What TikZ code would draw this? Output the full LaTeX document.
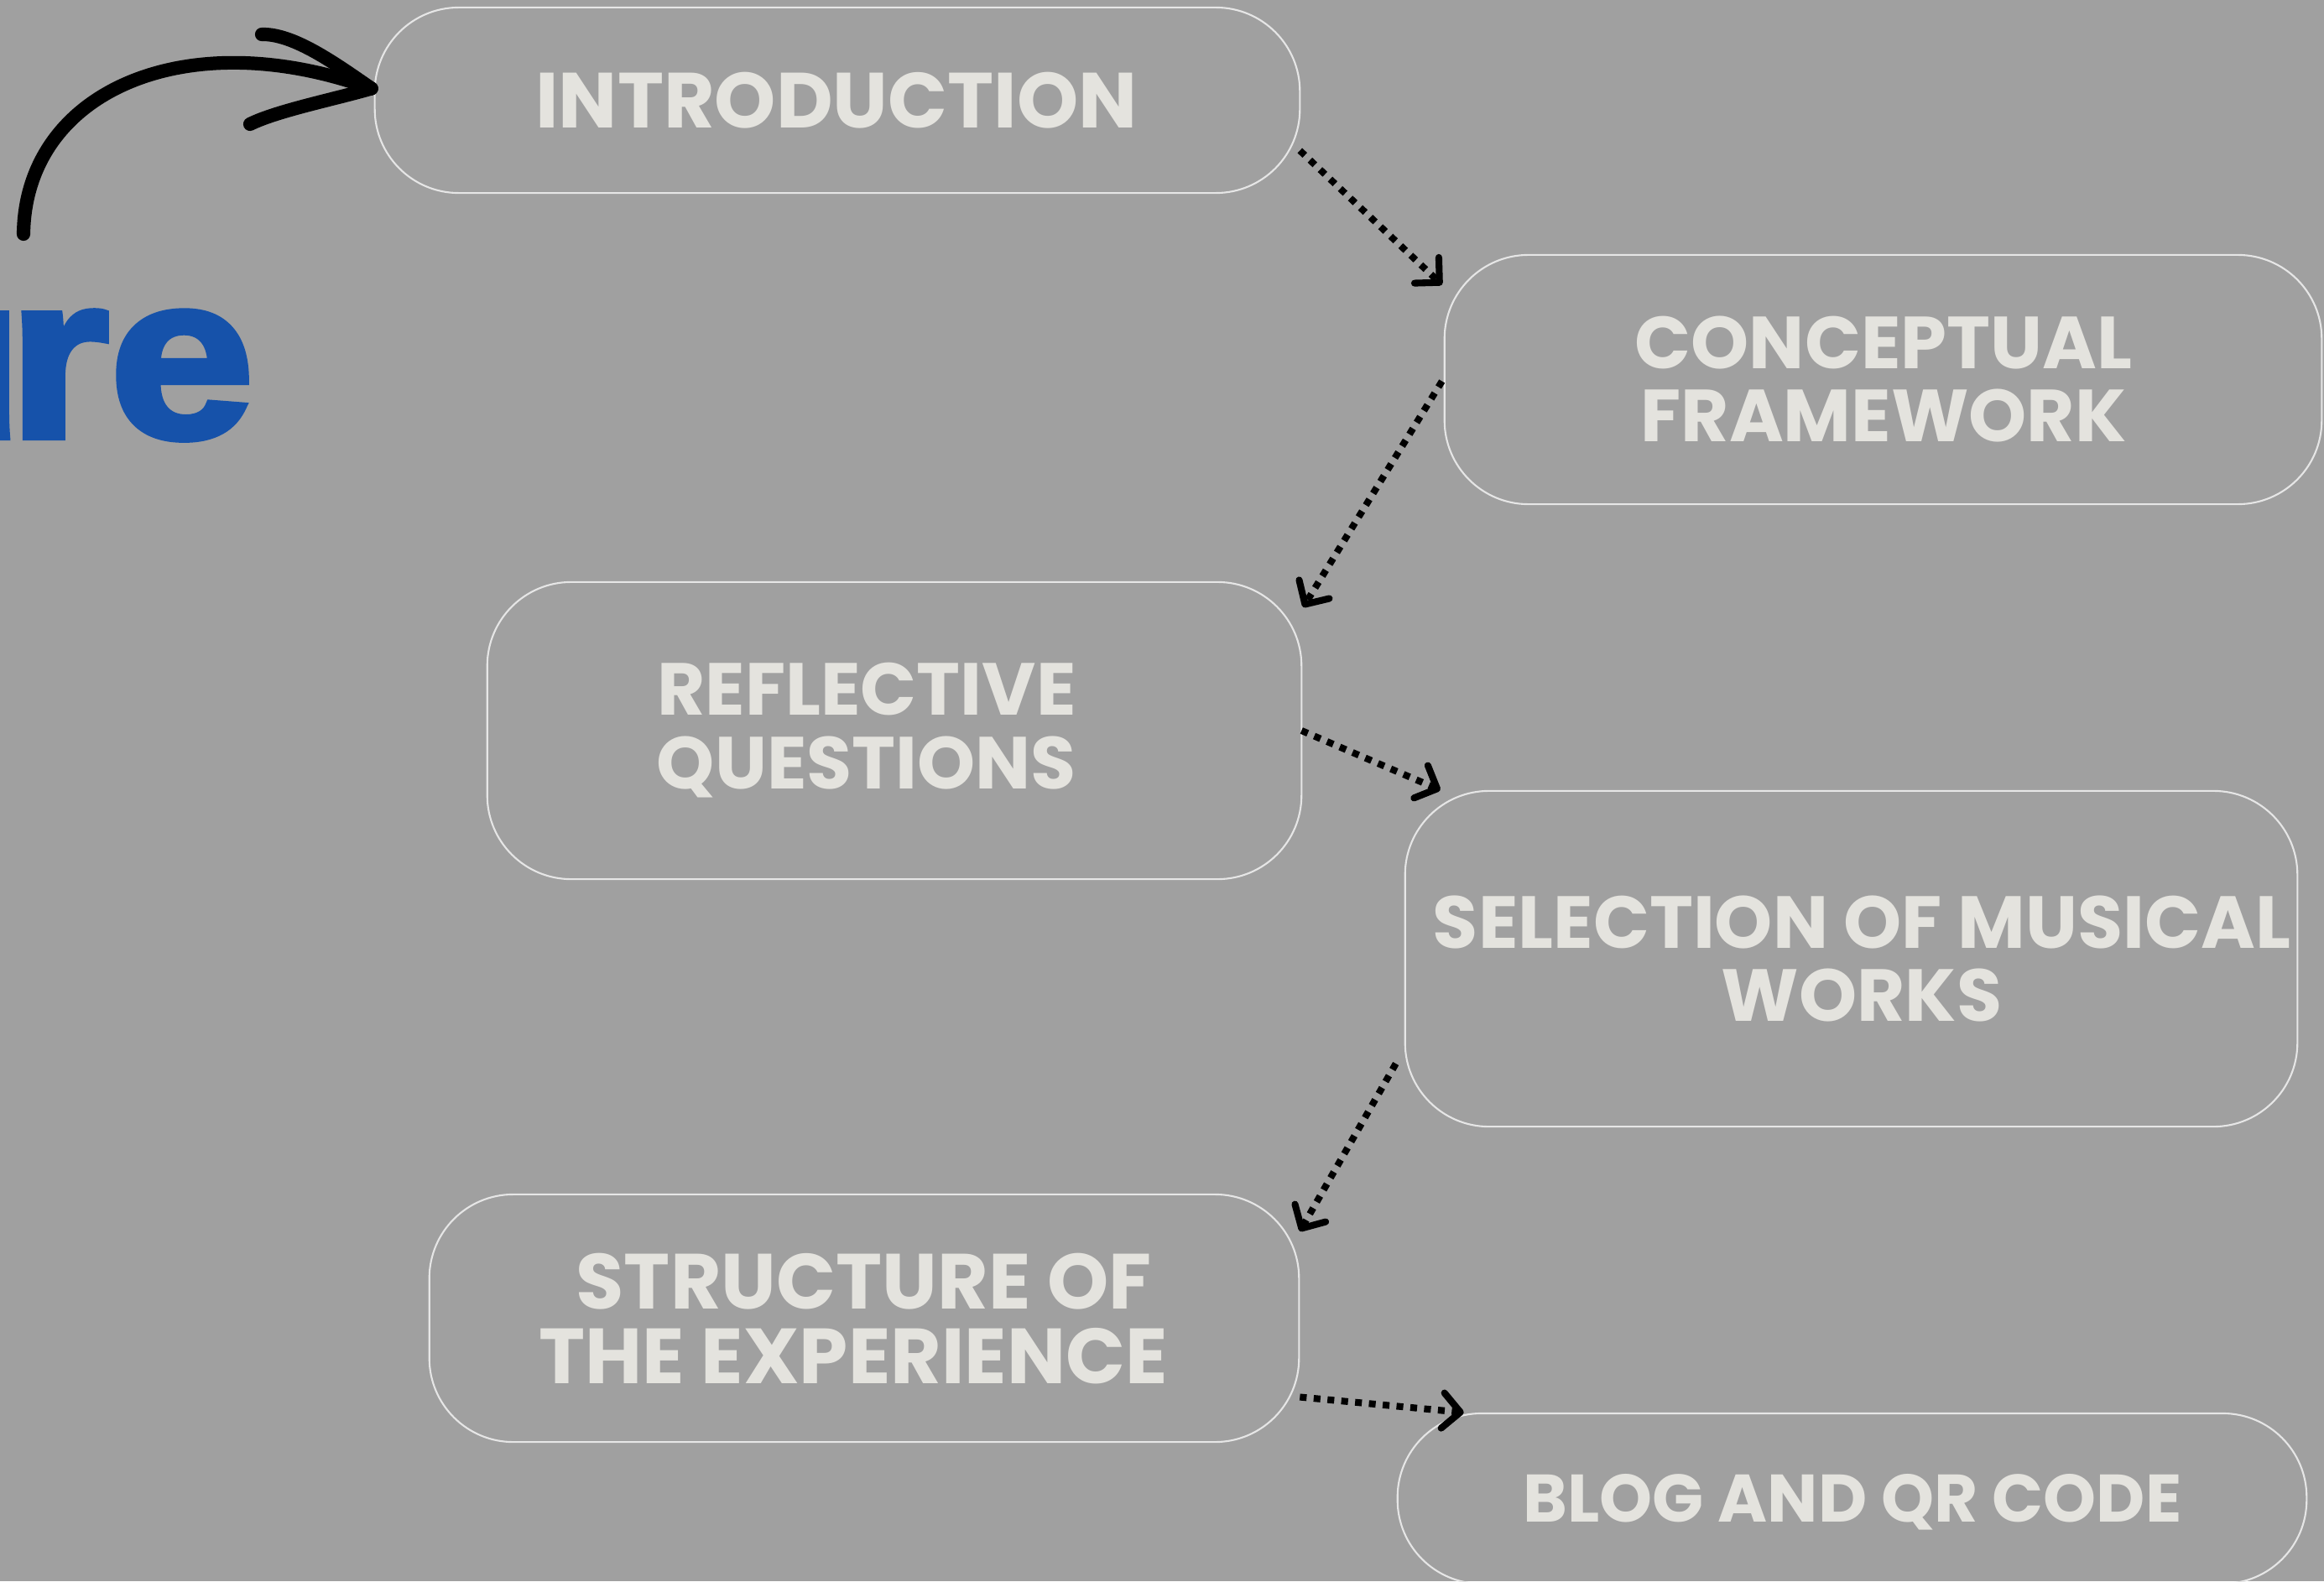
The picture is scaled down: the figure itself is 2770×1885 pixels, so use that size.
\documentclass[tikz,border=0pt]{standalone}
\usepackage{fontspec}
\usetikzlibrary{arrows.meta,calc}
\setmainfont{Poppins}
\newfontfamily\heavyfont[FakeBold=3,FakeStretch=1.12]{Liberation Sans Bold}
\definecolor{bg}{HTML}{A0A0A0}
\definecolor{boxline}{HTML}{E6E6E6}
\definecolor{txt}{HTML}{E4E3DE}
\definecolor{blueword}{HTML}{1652AA}
\begin{document}
\begin{tikzpicture}[x=0.01cm,y=-0.01cm,
  stagebox/.style={draw=boxline, line width=0.6pt, rounded corners=1cm, inner sep=0pt, outer sep=0pt},
  stagetext/.style={text=txt, font=\fontsize{25}{25}\selectfont\bfseries, align=center, inner sep=0pt},
  flow/.style={line width=2.3pt, dash pattern=on 2.3pt off 2.4pt, -{Straight Barb[length=6pt,width=12pt,line width=2.3pt,round]}},
  brush/.style={line width=4.6pt, line cap=round, black}]
\fill[bg] (0,0) rectangle (2770,1885);
\useasboundingbox (0,0) rectangle (2770,1885);
\clip (0,0) rectangle (2770,1885);

% blue partial word
\node[anchor=base east, inner sep=0pt, text=blueword, font=\heavyfont\fontsize{79}{79}\selectfont] (word) at (304,521) {u\kern-5.5pt re};

% boxes
\node[stagebox, minimum width=11.02cm, minimum height=2.21cm] (b1) at (998,119.5) {};
\node[stagebox, minimum width=10.45cm, minimum height=2.97cm] (b2) at (2244.5,452.5) {};
\node[stagebox, minimum width=9.70cm, minimum height=3.54cm] (b3) at (1066,871) {};
\node[stagebox, minimum width=10.63cm, minimum height=4.00cm] (b4) at (2206.5,1143) {};
\node[stagebox, minimum width=10.36cm, minimum height=2.95cm] (b5) at (1030,1571.5) {};
\node[stagebox, minimum width=10.83cm, minimum height=2.03cm] (b6) at (2207.5,1786.5) {};

% labels
\node[stagetext, font=\fontsize{26.5}{26.5}\selectfont\bfseries] (t1) at (997,120) {INTRODUCTION};
\node[stagetext] (t2) at (2245,452) {CONCEPTUAL\\FRAMEWORK};
\node[stagetext] (t3) at (1033,871) {REFLECTIVE\\QUESTIONS};
\node[stagetext] (t4) at (2219,1143) {SELECTION OF MUSICAL\\WORKS};
\node[stagetext, font=\fontsize{26.5}{25.5}\selectfont\bfseries] (t5) at (1017,1572) {\hspace*{0.25cm}STRUCTURE OF\\THE EXPERIENCE};
\node[stagetext, font=\fontsize{22.8}{22.8}\selectfont\bfseries] (t6) at (2208,1791) {BLOG AND QR CODE};

% dotted connectors
\draw[flow] ($(b1.east)+(0,60)$) -- ($(b2.west)+(-3,-113)$);
\draw[flow] ($(b2.west)+(-3,2)$) -- ($(b3.north east)+(2,30)$);
\draw[flow] (b3.east) -- ($(b4.north west)+(42,-1)$);
\draw[flow] ($(b4.west)+(-11,125)$) -- ($(b5.north east)+(1,44)$);
\draw[flow] ($(b5.east)+(1,94)$) -- ($(b6.north west)+(79,-1)$);

% hand-drawn arrow
\coordinate (hs) at (28,279);
\coordinate (tip) at ($(b1.west)+(-4,-14)$);
\draw[brush] (hs) .. controls (30,110) and (220,25) .. (tip);
\draw[brush] (tip) .. controls (400,76) and (350,40) .. (312,41);
\draw[brush] (tip) .. controls (400,118) and (330,132) .. (298,148);
\end{tikzpicture}
\end{document}
